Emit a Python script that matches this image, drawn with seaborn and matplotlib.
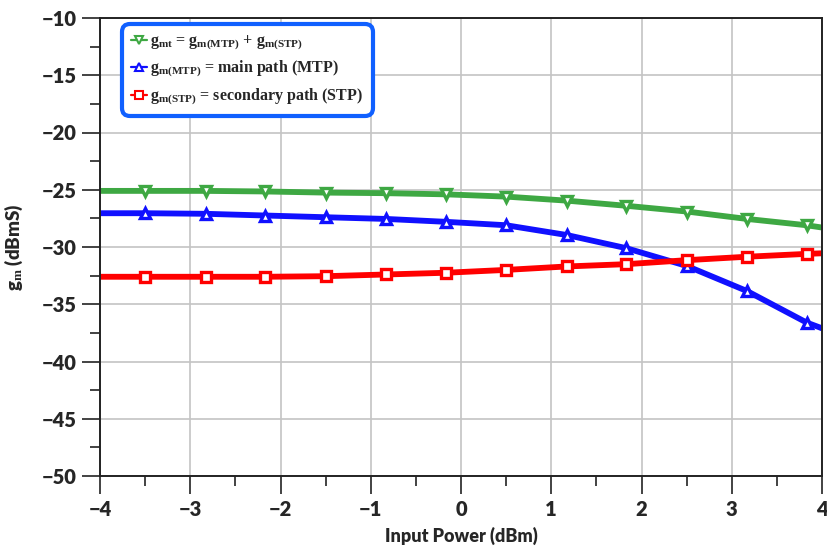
import matplotlib
matplotlib.use("Agg")
import matplotlib.pyplot as plt
from matplotlib.ticker import MultipleLocator
import seaborn as sns
import pandas as pd

# Input power sweep (dBm)
power = [-4.0, -3.5, -2.83, -2.17, -1.5, -0.83, -0.17, 0.5, 1.17, 1.83, 2.5, 3.17, 3.83, 4.0]

# Transconductance (dBmS)
gm_total = [-25.1, -25.1, -25.1, -25.15, -25.25, -25.3, -25.4, -25.6, -25.95, -26.4, -26.9, -27.55, -28.1, -28.3]
gm_main = [-27.05, -27.05, -27.1, -27.25, -27.4, -27.55, -27.8, -28.1, -28.95, -30.1, -31.65, -33.85, -36.6, -37.1]
gm_secondary = [-32.6, -32.6, -32.6, -32.6, -32.55, -32.4, -32.25, -32.0, -31.7, -31.5, -31.15, -30.85, -30.6, -30.55]

labels = [
    r"g$_{\mathrm{mt}}$ = g$_{\mathrm{m(MTP)}}$ + g$_{\mathrm{m(STP)}}$",
    r"g$_{\mathrm{m(MTP)}}$ = main path (MTP)",
    r"g$_{\mathrm{m(STP)}}$ = secondary path (STP)",
]
colors = ["#3ea843", "#1010ff", "#ff0000"]
markers = ["v", "^", "s"]

sns.set_theme(style="white")
plt.rcParams["font.family"] = ["Lato", "DejaVu Sans"]
plt.rcParams["font.weight"] = "heavy"
plt.rcParams["axes.labelweight"] = "heavy"
plt.rcParams["mathtext.fontset"] = "custom"
plt.rcParams["mathtext.rm"] = "Liberation Serif:bold"
plt.rcParams["mathtext.it"] = "Liberation Serif:bold"
plt.rcParams["mathtext.bf"] = "Liberation Serif:bold"

fig = plt.figure(figsize=(8.27, 5.47), dpi=100)
ax = fig.add_axes([100 / 827, 71 / 547, 722 / 827, 458 / 547])

for vals, lab, col, mk in zip([gm_total, gm_main, gm_secondary], labels, colors, markers):
    df = pd.DataFrame({"p": power, "g": vals})
    sns.lineplot(data=df, x="p", y="g", ax=ax, color=col, linewidth=4.2,
                 marker=mk, markersize=7.5, markerfacecolor="white",
                 markeredgecolor=col, markeredgewidth=2.4,
                 markevery=slice(1, -1), label=lab)

ax.set_xlim(-4, 4)
ax.set_ylim(-50, -10)
ax.xaxis.set_major_locator(MultipleLocator(1))
ax.xaxis.set_minor_locator(MultipleLocator(0.5))
ax.yaxis.set_major_locator(MultipleLocator(5))
ax.yaxis.set_minor_locator(MultipleLocator(2.5))
ax.grid(True, which="major", color="#c4c4c4", linewidth=1.2)
ax.tick_params(which="major", direction="out", length=13, width=1.2, color="#222222",
               labelsize=14.5, pad=4, left=True, bottom=True)
ax.tick_params(which="minor", direction="out", length=7, width=1.2, color="#222222",
               left=True, bottom=True)
for lbl in ax.get_xticklabels() + ax.get_yticklabels():
    lbl.set_fontweight("heavy")
for side in ["left", "bottom", "top", "right"]:
    ax.spines[side].set_color("#222222")
    ax.spines[side].set_linewidth(1.4)

ax.set_xlabel("Input Power (dBm)", fontsize=13, fontweight="heavy", labelpad=6)
ax.set_ylabel(r"g$_{\mathrm{m}}$ (dBmS)", fontsize=13.5, fontweight="heavy", labelpad=12)

leg = ax.legend(loc="upper left", bbox_to_anchor=(0.030, 0.987), borderaxespad=0,
                frameon=True, fancybox=True, framealpha=1, edgecolor="#1060ff",
                prop={"family": "Liberation Serif", "weight": "bold", "size": 11.5},
                handlelength=1.0, handletextpad=0.2, labelspacing=0.45,
                borderpad=0.6)
leg.get_frame().set_linewidth(3)
leg.get_frame().set_boxstyle("round", pad=0, rounding_size=0.5)
for line in leg.get_lines():
    line.set_linewidth(1.6)
    line.set_markersize(5.5)
    line.set_markeredgewidth(1.5)

fig.savefig("out.png", dpi=100)
